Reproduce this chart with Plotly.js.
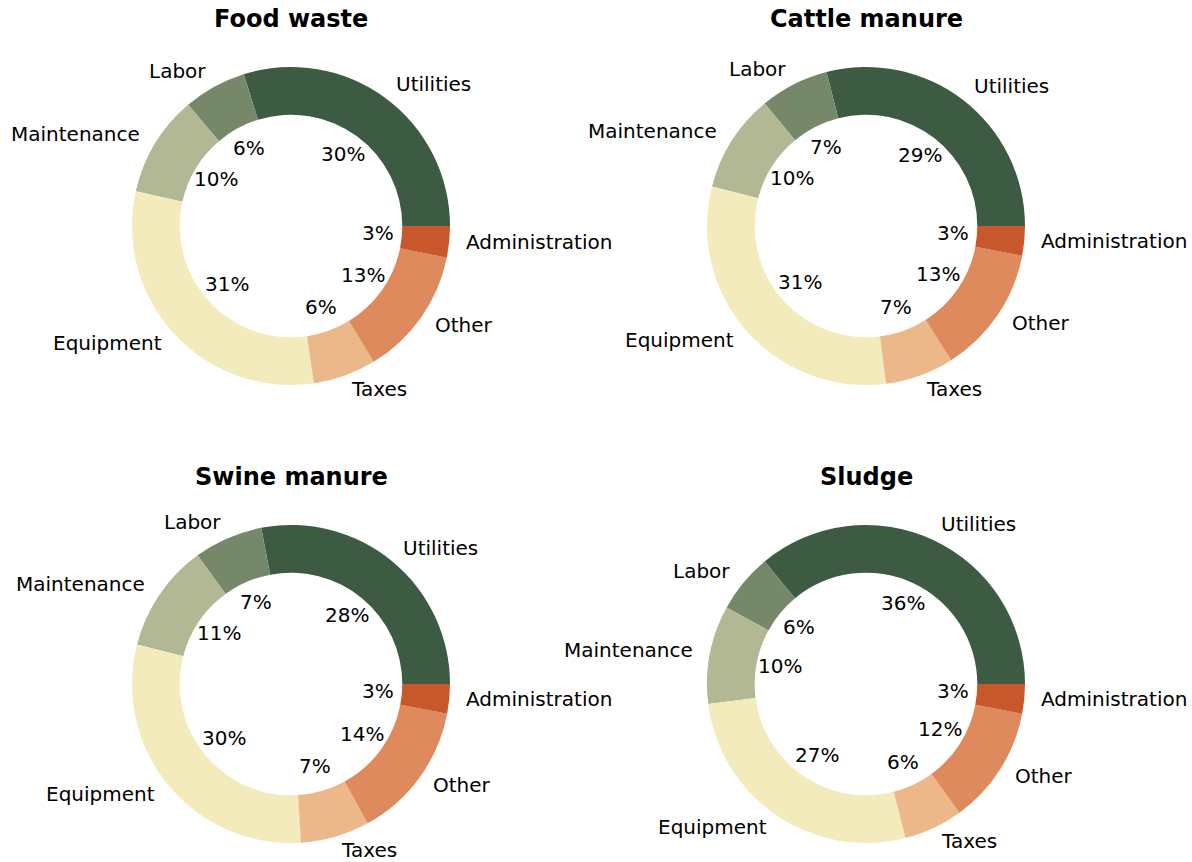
<!DOCTYPE html>
<html>
<head>
<meta charset="utf-8">
<script src="https://cdn.plot.ly/plotly-3.0.1.min.js"></script>
<style>html,body{margin:0;padding:0;background:#fff;}#chart{width:1192px;height:862px;}</style>
</head>
<body>
<div id="chart"></div>
<script>
// ---- data ----
const categories = ["Utilities", "Labor", "Maintenance", "Equipment", "Taxes", "Other", "Administration"];
const chartTitles = ["Food waste", "Cattle manure", "Swine manure", "Sludge"];
const foodWaste   = [29.8, 6.4, 10.3, 30.8, 6.4, 13.1, 3.2];
const cattleManure = [29, 7, 10, 31, 7, 13, 3];
const swineManure  = [28, 7, 11, 30, 7, 14, 3];
const sludge       = [36, 6, 10, 27, 6, 12, 3];
const colors = ["#3d5a42", "#76886a", "#b2b893", "#f4ebbd", "#ecb88a", "#df8a5c", "#c8572c"];

// ---- layout geometry (pixels) ----
const W = 1192, H = 862;
const R = 159;
const centers = [[291, 226], [866, 226], [291, 684], [866, 684]];
const titleY = [19, 19, 477, 477];
const TEXT_DY = -1.5;
const FONT = "DejaVu Sans, Liberation Sans, sans-serif";
const series = [foodWaste, cattleManure, swineManure, sludge];

const px = x => x / W;
const py = y => 1 - y / H;

const traces = [];
const annotations = [];

series.forEach((vals, k) => {
  const [cx, cy] = centers[k];
  const total = vals.reduce((a, b) => a + b, 0);
  // Plotly's counterclockwise pies place the first slice so that it ends at `rotation`;
  // shift so the first slice starts at 3 o'clock and runs counterclockwise.
  const rot = 90 - 360 * vals[0] / total;
  traces.push({
    type: "pie",
    values: vals,
    labels: categories,
    sort: false,
    direction: "counterclockwise",
    rotation: rot,
    hole: 0.7,
    textinfo: "none",
    hoverinfo: "label+percent",
    marker: {colors: colors, line: {width: 0}},
    domain: {x: [px(cx - R), px(cx + R)], y: [py(cy + R), py(cy - R)]},
    showlegend: false
  });
  let cum = 0;
  vals.forEach((v, i) => {
    const theta = 2 * Math.PI * (cum + v / 2) / total;
    cum += v;
    const c = Math.cos(theta), s = Math.sin(theta);
    annotations.push({
      xref: "paper", yref: "paper",
      x: px(cx + 1.1 * R * c), y: py(cy - 1.1 * R * s + TEXT_DY),
      text: categories[i], showarrow: false,
      xanchor: c > 0 ? "left" : "right", yanchor: "middle",
      borderpad: 0,
      font: {family: FONT, size: 20, color: "#000"}
    });
    annotations.push({
      xref: "paper", yref: "paper",
      x: px(cx + 0.55 * R * c), y: py(cy - 0.55 * R * s + TEXT_DY),
      text: Math.round(100 * v / total) + "%", showarrow: false,
      xanchor: "center", yanchor: "middle",
      borderpad: 0,
      font: {family: FONT, size: 20, color: "#000"}
    });
  });
  annotations.push({
    xref: "paper", yref: "paper",
    x: px(cx), y: py(titleY[k]),
    text: chartTitles[k], showarrow: false,
    xanchor: "center", yanchor: "middle",
    borderpad: 0,
    font: {family: FONT, size: 24, color: "#000", weight: "bold"}
  });
});

const layout = {
  width: W, height: H,
  margin: {l: 0, r: 0, t: 0, b: 0},
  paper_bgcolor: "#fff",
  plot_bgcolor: "#fff",
  showlegend: false,
  annotations: annotations
};

Plotly.newPlot("chart", traces, layout, {displayModeBar: false, staticPlot: true});
</script>
</body>
</html>
